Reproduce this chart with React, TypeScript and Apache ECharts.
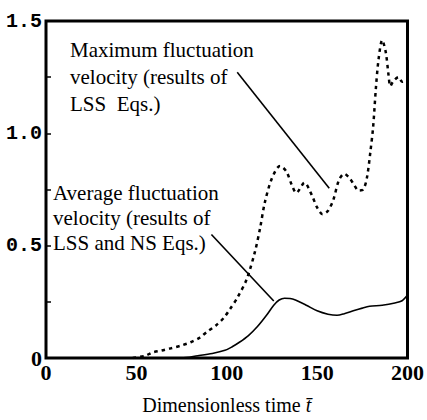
import React, { useEffect, useRef } from "react";
import * as echarts from "echarts";

// Maximum fluctuation velocity (LSS Eqs.) — dotted
const maxT = [48, 55, 59, 64, 69, 75, 80, 85, 89, 94, 98.5, 102, 106, 111, 115.5, 118.5, 121, 125, 129.5, 133, 136, 138.5, 143, 147, 150, 153, 156, 159, 162, 165, 168, 170.5, 173, 175.5, 177.5, 179.5, 181, 182.5, 184, 186, 188, 189.5, 190.5, 192, 195, 197, 200];
const maxV = [0, 0.01, 0.025, 0.033, 0.043, 0.056, 0.07, 0.09, 0.116, 0.145, 0.18, 0.22, 0.27, 0.35, 0.47, 0.58, 0.69, 0.8, 0.855, 0.83, 0.77, 0.735, 0.78, 0.726, 0.67, 0.64, 0.655, 0.705, 0.79, 0.82, 0.8, 0.77, 0.745, 0.75, 0.8, 0.92, 1.03, 1.2, 1.33, 1.415, 1.36, 1.26, 1.21, 1.23, 1.25, 1.23, 1.24];

// Average fluctuation velocity (LSS and NS Eqs.) — solid
const avgT = [0, 75, 84, 92, 99, 103, 107, 112, 117, 122, 126, 129, 132, 135, 138, 144, 150, 156, 161, 165, 170, 175, 179, 186, 193, 197, 200];
const avgV = [0, 0, 0.01, 0.02, 0.034, 0.05, 0.07, 0.1, 0.14, 0.19, 0.235, 0.258, 0.266, 0.265, 0.258, 0.235, 0.21, 0.195, 0.19, 0.197, 0.21, 0.222, 0.23, 0.235, 0.245, 0.255, 0.28];

// Leader lines (data coordinates)
const leaderTop = [[105.8, 1.272], [156.7, 0.756]];
const leaderBottom = [[91.5, 0.55], [126, 0.254]];

const xTicks = [0, 50, 100, 150, 200];
const yLabels: Record<string, string> = { "0": "0", "0.5": "0.5", "1": "1.0", "1.5": "1.5" };

const labelTop = "Maximum fluctuation\nvelocity (results of\nLSS  Eqs.)";
const labelBottom = "Average fluctuation\nvelocity (results of\nLSS and NS Eqs.)";

export default function App() {
  const ref = useRef<HTMLDivElement>(null);
  useEffect(() => {
    if (!ref.current) return;
    const chart = echarts.init(ref.current, null, { renderer: "svg" });
    const serif = "Liberation Serif";
    chart.setOption({
      animation: false,
      backgroundColor: "#fff",
      grid: {
        left: 46,
        right: 16,
        top: 21,
        bottom: 52,
        show: true,
        borderColor: "#000",
        borderWidth: 3,
        backgroundColor: "transparent",
      },
      xAxis: {
        type: "value",
        min: 0,
        max: 200,
        interval: 50,
        axisLine: { show: false },
        axisTick: { show: false },
        splitLine: { show: false },
        axisLabel: {
          color: "#000",
          fontFamily: serif,
          fontWeight: "bold",
          fontSize: 22,
          margin: 3,
          formatter: (v: number) => (xTicks.includes(v) ? String(v) : ""),
        },
        name: "Dimensionless time {i|t\u0304}",
        nameLocation: "middle",
        nameGap: 37,
        nameTextStyle: {
          color: "#000",
          fontFamily: serif,
          fontSize: 20,
          rich: { i: { fontFamily: serif, fontStyle: "italic", fontSize: 20, color: "#000" } },
        },
      },
      yAxis: {
        type: "value",
        min: 0,
        max: 1.5,
        interval: 0.25,
        axisLine: { show: false },
        axisTick: { show: true, inside: true, length: 5, lineStyle: { color: "#000", width: 1.5 } },
        splitLine: { show: false },
        axisLabel: {
          color: "#000",
          margin: 4,
          formatter: (v: number) => {
            const k = String(Math.round(v * 100) / 100);
            if (!(k in yLabels)) return "";
            return k === "0" ? "{z|0}" : "{m|" + yLabels[k] + "}";
          },
          rich: {
            m: { fontFamily: "Liberation Mono", fontWeight: "bold", fontSize: 20, color: "#000" },
            z: { fontFamily: serif, fontWeight: "bold", fontSize: 22, color: "#000" },
          },
        },
      },
      graphic: [
        {
          type: "text",
          left: 70,
          top: 36,
          style: {
            text: labelTop,
            fontFamily: serif,
            fontSize: 21,
            lineHeight: 27,
            fill: "#000",
          },
        },
        {
          type: "text",
          left: 53,
          top: 180,
          style: {
            text: labelBottom,
            fontFamily: serif,
            fontSize: 21,
            lineHeight: 25,
            fill: "#000",
          },
        },
      ],
      series: [
        {
          type: "line",
          data: maxT.map((t, i) => [t, maxV[i]]),
          smooth: 0.3,
          symbol: "none",
          lineStyle: { color: "#000", width: 2.5, type: [3.5, 4] },
          z: 3,
        },
        {
          type: "line",
          data: avgT.map((t, i) => [t, avgV[i]]),
          smooth: 0.3,
          symbol: "none",
          lineStyle: { color: "#000", width: 1.6 },
          z: 3,
          markLine: {
            silent: true,
            symbol: "none",
            label: { show: false },
            lineStyle: { color: "#000", width: 1.6, type: "solid" },
            data: [
              [{ coord: leaderTop[0] }, { coord: leaderTop[1] }],
              [{ coord: leaderBottom[0] }, { coord: leaderBottom[1] }],
            ],
          },
        },
      ],
    });
    return () => chart.dispose();
  }, []);
  return <div ref={ref} style={{ width: 427, height: 420, position: "absolute", left: 0, top: 0 }} />;
}
